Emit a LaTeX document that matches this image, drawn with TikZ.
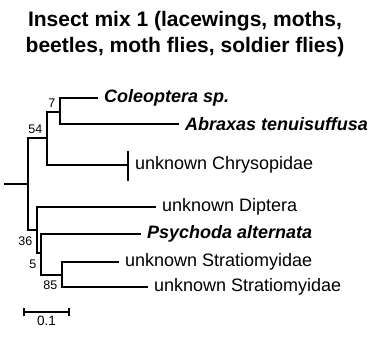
\documentclass[tikz,border=0pt]{standalone}
\usepackage{fontspec}
\setmainfont{Liberation Sans}
\begin{document}
\begin{tikzpicture}[x=1pt, y=-1pt,
    branch/.style={line width=1.5pt, line cap=rect},
    taxon/.style={anchor=west, inner sep=2pt, xshift=5pt, font=\fontsize{18}{20}\selectfont},
    species/.style={taxon, font=\fontsize{18}{20}\selectfont\bfseries\itshape},
    boot/.style={inner sep=1pt, font=\fontsize{12.5}{14}\selectfont}]
  \useasboundingbox (0,0) rectangle (370,338);
  % Title
  \node[align=center, font=\fontsize{21}{26}\selectfont\bfseries] (title) at (185,34)
    {Insect mix 1 (lacewings, moths,\\beetles, moth flies, soldier flies)};
  % Internal nodes
  \coordinate (base) at (5,184);
  \coordinate (root) at (28,184);
  \coordinate (n54) at (47,138);
  \coordinate (n7) at (60,112);
  \coordinate (n36) at (37,230);
  \coordinate (n5) at (41,253);
  \coordinate (n85) at (62,275);
  % Tips
  \coordinate (tColeo) at (97,98);
  \coordinate (tAbrax) at (178,124);
  \coordinate (tChryso) at (128,165);
  \coordinate (tDipt) at (155,207);
  \coordinate (tPsych) at (140,234);
  \coordinate (tStrat1) at (118,262);
  \coordinate (tStrat2) at (147,287);
  % Branches
  \draw[branch] (base) -- (root);
  \draw[branch] (root) |- (n54);
  \draw[branch] (root) |- (n36);
  \draw[branch] (n54) |- (n7);
  \draw[branch] (n7) |- (tColeo);
  \draw[branch] (n7) |- (tAbrax);
  \draw[branch] (n54) |- (tChryso);
  \draw[branch] ([yshift=13]tChryso) -- ([yshift=-15]tChryso);
  \draw[branch] (n36) |- (tDipt);
  \draw[branch] (n36) |- (n5);
  \draw[branch] (n5) |- (tPsych);
  \draw[branch] (n5) |- (n85);
  \draw[branch] (n85) |- (tStrat1);
  \draw[branch] (n85) |- (tStrat2);
  % Taxon labels
  \node[species] (lColeo) at (tColeo) {Coleoptera sp.};
  \node[species] (lAbrax) at (tAbrax) {Abraxas tenuisuffusa};
  \node[taxon] (lChryso) at (tChryso) {unknown Chrysopidae};
  \node[taxon] (lDipt) at (tDipt) {unknown Diptera};
  \node[species] (lPsych) at (tPsych) {Psychoda alternata};
  \node[taxon] (lStrat1) at (tStrat1) {unknown Stratiomyidae};
  \node[taxon] (lStrat2) at (tStrat2) {unknown Stratiomyidae};
  % Bootstrap values
  \node[boot, above left=3.5pt] (b54) at (n54) {54};
  \node[boot, above left=3.5pt] (b7) at (n7) {7};
  \node[boot, below left, xshift=-3.5pt, yshift=-6pt] (b36) at (n36) {36};
  \node[boot, below left, xshift=-3.5pt, yshift=-6pt] (b5) at (n5) {5};
  \node[boot, below left, xshift=-3.5pt, yshift=-5pt] (b85) at (n85) {85};
  % Scale bar
  \coordinate (sL) at (24,312);
  \coordinate (sM) at (46.5,312);
  \coordinate (sR) at (69,312);
  \draw[line width=1.3pt] (sL) -- (sR);
  \draw[line width=1.3pt] ([yshift=-4]sL) -- ([yshift=4]sL);
  \draw[line width=1.3pt] ([yshift=-4]sR) -- ([yshift=4]sR);
  \node[boot, below=3pt, font=\fontsize{13.5}{15}\selectfont] (scale) at (sM) {0.1};
\end{tikzpicture}
\end{document}
